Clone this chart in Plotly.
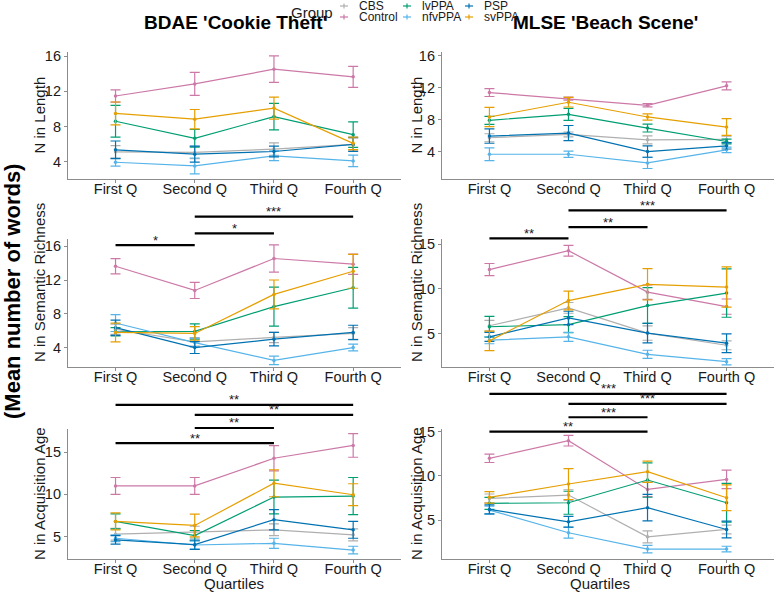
import plotly.graph_objects as go

quartiles = ["First Q", "Second Q", "Third Q", "Fourth Q"]
groups = ["CBS", "Control", "lvPPA", "nfvPPA", "PSP", "svPPA"]
group_colors = {
    "CBS": "#AFAFAF",
    "Control": "#CC79A7",
    "lvPPA": "#009E73",
    "nfvPPA": "#56B4E9",
    "PSP": "#0072B2",
    "svPPA": "#E69F00",
}

# ---- BDAE 'Cookie Theft' : N in Length ----
bdae_len_mean = {
    "CBS": [5.14, 5.07, 5.45, 5.98],
    "Control": [11.47, 12.84, 14.51, 13.64],
    "lvPPA": [8.61, 6.67, 9.14, 7.09],
    "nfvPPA": [3.96, 3.54, 4.69, 4.11],
    "PSP": [5.37, 4.88, 5.18, 5.98],
    "svPPA": [9.49, 8.84, 10.10, 6.10],
}
bdae_len_se = {
    "CBS": [0.7, 0.7, 0.7, 0.7],
    "Control": [0.7, 1.3, 1.5, 1.2],
    "lvPPA": [1.8, 1.0, 1.5, 1.45],
    "nfvPPA": [0.45, 0.9, 0.55, 0.65],
    "PSP": [1.0, 0.9, 0.6, 0.8],
    "svPPA": [1.3, 1.1, 1.25, 0.7],
}

# ---- MLSE 'Beach Scene' : N in Length ----
mlse_len_mean = {
    "CBS": [5.73, 6.15, 5.47, 5.52],
    "Control": [11.41, 10.65, 9.81, 12.25],
    "lvPPA": [7.92, 8.67, 6.95, 5.26],
    "nfvPPA": [3.66, 3.66, 2.57, 4.21],
    "PSP": [5.94, 6.32, 4.00, 4.72],
    "svPPA": [8.34, 10.19, 8.34, 7.07],
}
mlse_len_se = {
    "CBS": [0.5, 0.3, 0.5, 0.4],
    "Control": [0.5, 0.2, 0.2, 0.5],
    "lvPPA": [0.5, 0.75, 0.5, 0.3],
    "nfvPPA": [0.8, 0.4, 0.7, 0.35],
    "PSP": [0.9, 0.95, 0.72, 0.4],
    "svPPA": [1.2, 0.6, 0.4, 1.05],
}

# ---- BDAE 'Cookie Theft' : N in Semantic Richness ----
bdae_sr_mean = {
    "CBS": [6.2, 4.71, 5.23, 5.7],
    "Control": [13.62, 10.77, 14.53, 13.86],
    "lvPPA": [5.9, 5.94, 8.87, 11.09],
    "nfvPPA": [6.93, 4.63, 2.53, 4.04],
    "PSP": [6.38, 4.04, 5.03, 5.82],
    "svPPA": [5.82, 5.7, 10.3, 13.03],
}
bdae_sr_se = {
    "CBS": [0.6, 0.5, 0.6, 0.7],
    "Control": [0.9, 0.95, 1.6, 1.2],
    "lvPPA": [0.5, 0.9, 2.3, 2.4],
    "nfvPPA": [1.0, 0.5, 0.5, 0.4],
    "PSP": [0.9, 0.7, 0.8, 0.85],
    "svPPA": [1.1, 0.8, 1.7, 2.0],
}

# ---- MLSE 'Beach Scene' : N in Semantic Richness ----
mlse_sr_mean = {
    "CBS": [5.86, 7.86, 5.04, 3.68],
    "Control": [12.14, 14.25, 9.62, 8.0],
    "lvPPA": [5.75, 5.98, 8.12, 9.51],
    "nfvPPA": [4.25, 4.62, 2.67, 1.84],
    "PSP": [4.62, 6.73, 5.04, 3.91],
    "svPPA": [4.17, 8.68, 10.49, 10.19],
}
mlse_sr_se = {
    "CBS": [0.6, 0.6, 0.8, 0.5],
    "Control": [0.68, 0.6, 0.8, 0.85],
    "lvPPA": [1.15, 0.9, 2.0, 2.7],
    "nfvPPA": [0.4, 0.5, 0.45, 0.35],
    "PSP": [0.5, 0.75, 1.1, 1.05],
    "svPPA": [1.1, 1.05, 1.75, 2.25],
}

# ---- BDAE 'Cookie Theft' : N in Acquisition Age ----
bdae_aoa_mean = {
    "CBS": [5.28, 5.52, 5.8, 5.2],
    "Control": [11.0, 11.0, 14.28, 15.8],
    "lvPPA": [6.8, 5.12, 9.68, 9.8],
    "nfvPPA": [4.8, 4.0, 4.2, 3.4],
    "PSP": [4.6, 4.04, 7.0, 5.8],
    "svPPA": [6.8, 6.32, 11.32, 9.96],
}
bdae_aoa_se = {
    "CBS": [0.7, 0.7, 0.7, 0.7],
    "Control": [1.0, 1.0, 1.5, 1.4],
    "lvPPA": [0.9, 0.6, 2.0, 2.2],
    "nfvPPA": [0.4, 0.5, 0.6, 0.45],
    "PSP": [0.5, 0.55, 1.2, 1.0],
    "svPPA": [1.0, 1.35, 1.6, 1.3],
}

# ---- MLSE 'Beach Scene' : N in Acquisition Age ----
mlse_aoa_mean = {
    "CBS": [7.45, 7.83, 3.11, 3.94],
    "Control": [11.98, 13.98, 8.47, 9.6],
    "lvPPA": [6.89, 6.96, 9.53, 6.96],
    "nfvPPA": [6.13, 3.57, 1.72, 1.72],
    "PSP": [6.21, 4.81, 6.4, 3.94],
    "svPPA": [7.57, 9.08, 10.47, 7.53],
}
mlse_aoa_se = {
    "CBS": [0.5, 0.6, 0.68, 0.5],
    "Control": [0.47, 0.6, 0.8, 1.05],
    "lvPPA": [0.68, 1.3, 1.95, 2.2],
    "nfvPPA": [0.45, 0.62, 0.43, 0.32],
    "PSP": [0.5, 0.6, 1.5, 0.95],
    "svPPA": [0.65, 1.75, 1.2, 1.45],
}

# ---- significance comparisons (from, to, label) ----
sig_bdae_sr = [("First Q", "Second Q", "*"), ("Second Q", "Third Q", "*"), ("Second Q", "Fourth Q", "***")]
sig_mlse_sr = [("First Q", "Second Q", "**"), ("Second Q", "Third Q", "**"), ("Second Q", "Fourth Q", "***")]
sig_bdae_aoa = [("First Q", "Fourth Q", "**"), ("Second Q", "Fourth Q", "**"),
                ("Second Q", "Third Q", "**"), ("First Q", "Third Q", "**")]
sig_mlse_aoa = [("First Q", "Fourth Q", "***"), ("Second Q", "Fourth Q", "***"),
                ("Second Q", "Third Q", "***"), ("First Q", "Third Q", "**")]

# ---------------- layout geometry ----------------
W, H = 777, 592
FONT = "Arial, Liberation Sans, sans-serif"

def px_x(x):
    return x / W

def px_y(y):
    return 1 - y / H

col_px = [(68, 400.7), (442, 774)]
row_px = [(52, 179), (239, 367), (429, 559)]
xr = [-0.6, 3.6]

panels = [
    dict(mean=bdae_len_mean, se=bdae_len_se, row=0, col=0, yr=[2.06, 16.46], ticks=[4, 8, 12, 16],
         ytitle="N in Length", sig=None, lv=None),
    dict(mean=mlse_len_mean, se=mlse_len_se, row=0, col=1, yr=[0.55, 16.5], ticks=[4, 8, 12, 16],
         ytitle="N in Length", sig=None, lv=None),
    dict(mean=bdae_sr_mean, se=bdae_sr_se, row=1, col=0, yr=[1.75, 16.83], ticks=[4, 8, 12, 16],
         ytitle="N in Semantic Richness", sig=sig_bdae_sr, lv=[16.11, 17.5, 19.47]),
    dict(mean=mlse_sr_mean, se=mlse_sr_se, row=1, col=1, yr=[1.25, 15.56], ticks=[5, 10, 15],
         ytitle="N in Semantic Richness", sig=sig_mlse_sr, lv=[15.64, 16.88, 18.75]),
    dict(mean=bdae_aoa_mean, se=bdae_aoa_se, row=2, col=0, yr=[2.34, 17.75], ticks=[5, 10, 15],
         ytitle="N in Acquisition Age", sig=sig_bdae_aoa, lv=[20.62, 19.42, 17.87, 16.08]),
    dict(mean=mlse_aoa_mean, se=mlse_aoa_se, row=2, col=1, yr=[0.6, 15.3], ticks=[5, 10, 15],
         ytitle="N in Acquisition Age", sig=sig_mlse_aoa, lv=[19.27, 18.14, 16.63, 15.0]),
]

fig = go.Figure()
shapes = []
annotations = []
axis_color = "#8C8C8C"

def ann(text, x, y, size, xanchor="center", yanchor="middle", angle=0, color="#1a1a1a", **kw):
    d = dict(text=text, x=x, y=y, xref=kw.pop("xref", "paper"), yref=kw.pop("yref", "paper"),
             showarrow=False, textangle=angle, xanchor=xanchor, yanchor=yanchor,
             font=dict(size=size, color=color, family=FONT))
    d.update(kw)
    annotations.append(d)

for k, p in enumerate(panels, start=1):
    xs = "" if k == 1 else str(k)
    x0, x1 = col_px[p["col"]]
    yt, yb = row_px[p["row"]]
    fig.update_layout(**{
        "xaxis" + xs: dict(
            domain=[px_x(x0), px_x(x1)], anchor="y" + xs, type="category",
            categoryorder="array", categoryarray=quartiles, range=xr,
            showline=True, linecolor=axis_color, linewidth=1.2,
            ticks="outside", ticklen=3, tickcolor=axis_color, ticklabelstandoff=-7,
            tickfont=dict(size=14.5, color="#1a1a1a", family=FONT),
            showgrid=False, zeroline=False, fixedrange=True, automargin=False),
        "yaxis" + xs: dict(
            domain=[px_y(yb), px_y(yt)], anchor="x" + xs, range=p["yr"],
            tickvals=p["ticks"], showline=True, linecolor=axis_color, linewidth=1.2,
            ticks="outside", ticklen=3, tickcolor=axis_color,
            tickfont=dict(size=14.5, color="#1a1a1a", family=FONT),
            showgrid=False, zeroline=False, fixedrange=True, automargin=False),
    })
    for g in groups:
        fig.add_trace(go.Scatter(
            x=quartiles, y=p["mean"][g], xaxis="x" + xs, yaxis="y" + xs,
            mode="lines+markers", showlegend=False, name=g, hoverinfo="skip",
            line=dict(color=group_colors[g], width=1.2),
            marker=dict(color=group_colors[g], size=3.5),
            error_y=dict(type="data", array=p["se"][g], color=group_colors[g],
                         thickness=1.2, width=5),
        ))
    # y-axis title
    ycenter = (yt + yb) / 2
    if p["row"] == 1:
        ycenter = 283
    ann(p["ytitle"], px_x(39 if p["col"] == 0 else 416), px_y(ycenter), 15, angle=-90)
    # significance bars
    if p["sig"]:
        r0, r1 = p["yr"]
        for (a, b, lab), lev in zip(p["sig"], p["lv"]):
            ia, ib = quartiles.index(a), quartiles.index(b)
            fa = (ia - xr[0]) / (xr[1] - xr[0])
            fb = (ib - xr[0]) / (xr[1] - xr[0])
            fy = (lev - r0) / (r1 - r0)
            shapes.append(dict(type="line", xref="x" + xs + " domain", yref="y" + xs + " domain",
                               x0=fa, x1=fb, y0=fy, y1=fy, line=dict(color="black", width=2.2)))
            ann(lab, (fa + fb) / 2, fy, 13, xref="x" + xs + " domain", yref="y" + xs + " domain",
                yshift=5)

# column titles
ann("<b>BDAE 'Cookie Theft'</b>", px_x(235), px_y(23), 19, color="black")
ann("<b>MLSE 'Beach Scene'</b>", px_x(605), px_y(23), 19, color="black")
# x titles
for xc in (234, 600):
    ann("Quartiles", px_x(xc), px_y(583), 15)
# overall y title
ann("<b>(Mean number of words)</b>", px_x(12), px_y(292), 22, angle=-90, color="black")

# legend (manual, column-major as in the original)
ann("Group", px_x(312), px_y(12), 15)
legend_cols = [344, 407, 469]
legend_rows = [6, 17]
for i, g in enumerate(groups):
    cx = legend_cols[i // 2]
    cy = legend_rows[i % 2]
    c = group_colors[g]
    shapes.append(dict(type="line", xref="paper", yref="paper", x0=px_x(cx - 4), x1=px_x(cx + 4),
                       y0=px_y(cy), y1=px_y(cy), line=dict(color=c, width=1.2)))
    shapes.append(dict(type="line", xref="paper", yref="paper", x0=px_x(cx), x1=px_x(cx),
                       y0=px_y(cy - 2.5), y1=px_y(cy + 2.5), line=dict(color=c, width=1.2)))
    ann(g, px_x(cx + 13), px_y(cy), 12, xanchor="left")

fig.update_layout(
    width=W, height=H, margin=dict(l=0, r=0, t=0, b=0, autoexpand=False),
    paper_bgcolor="white", plot_bgcolor="white",
    showlegend=False, shapes=shapes, annotations=annotations,
    font=dict(family=FONT), hovermode=False,
)
fig.write_html("out.html", config={"displayModeBar": False},
               post_script="document.body.style.margin='0px';")
